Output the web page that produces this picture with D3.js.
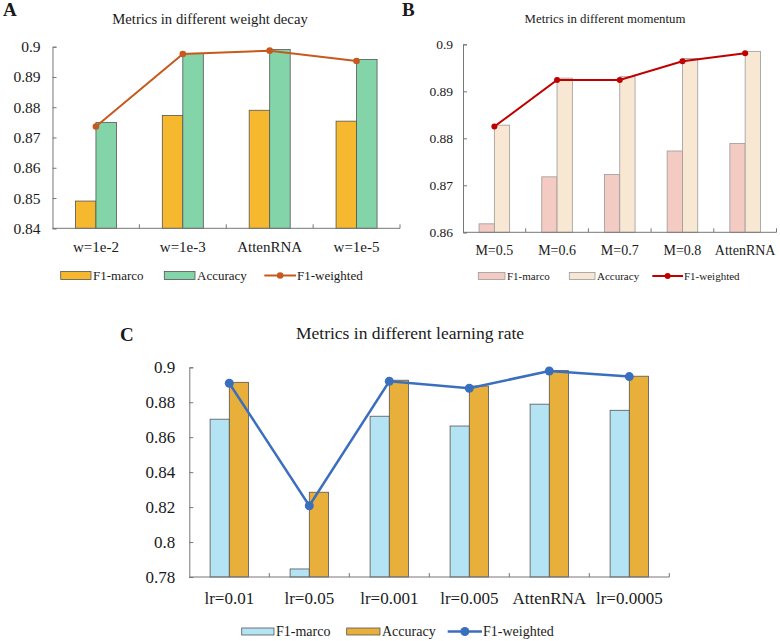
<!DOCTYPE html>
<html lang="en">
<head>
    <meta charset="UTF-8">
    <title>Metrics</title>
    <script src="https://cdn.jsdelivr.net/npm/d3@7"></script>
    <style>
        body { margin: 0; background: #fff; }
        text { font-family: "Liberation Serif", "DejaVu Serif", serif; fill: #1a1a1a; }
    </style>
</head>
<body>
    <script>
        const W = 780, H = 641;

        // panel A - weight decay
        const decayCats = ['w=1e-2', 'w=1e-3', 'AttenRNA', 'w=1e-5'];
        const decayF1Marco = [0.849, 0.8773, 0.879, 0.8754];
        const decayAcc = [0.875, 0.8978, 0.8991, 0.8958];
        const decayF1W = [0.8736, 0.8976, 0.8987, 0.8953];
        const decayTicks = [0.84, 0.85, 0.86, 0.87, 0.88, 0.89, 0.9];

        // panel B - momentum
        const momCats = ['M=0.5', 'M=0.6', 'M=0.7', 'M=0.8', 'AttenRNA'];
        const momF1Marco = [0.8618, 0.8718, 0.8723, 0.8773, 0.8789];
        const momAcc = [0.8828, 0.8928, 0.8931, 0.8970, 0.8985];
        const momF1W = [0.8825, 0.8924, 0.8924, 0.8964, 0.8981];
        const momTicks = [0.86, 0.87, 0.88, 0.89, 0.9];

        // panel C - learning rate
        const lrCats = ['lr=0.01', 'lr=0.05', 'lr=0.001', 'lr=0.005', 'AttenRNA', 'lr=0.0005'];
        const lrF1Marco = [0.8703, 0.7846, 0.872, 0.8664, 0.8789, 0.8754];
        const lrAcc = [0.8914, 0.8285, 0.8926, 0.8893, 0.8981, 0.8949];
        const lrF1W = [0.8909, 0.8208, 0.892, 0.888, 0.8979, 0.8947];
        const lrTicks = [0.78, 0.8, 0.82, 0.84, 0.86, 0.88, 0.9];

        const seriesNames = ['F1-marco', 'Accuracy', 'F1-weighted'];

        var svg = d3.select('body')
                    .append('svg')
                    .attr('width', W)
                    .attr('height', H);

        function drawPanel(p){
            var g = svg.append('g');
            var x = d3.scaleBand().domain(p.cats).range([p.x0, p.x1]);
            var y = d3.scaleLinear().domain([p.ticks[0], p.ticks[p.ticks.length - 1]]).range([p.yb, p.yt]);
            var bw = p.barW;

            // panel letter + title
            g.append('text').attr('x', p.letter[0]).attr('y', p.letter[1])
                .attr('font-size', p.letterSize).attr('font-weight', 'bold').text(p.letterText);
            g.append('text').attr('x', p.titlePos[0]).attr('y', p.titlePos[1])
                .attr('text-anchor', 'middle').attr('font-size', p.titleSize).text(p.title);

            // bars
            var rows = p.cats.map(function(c, i){ return {c: c, a: p.s1[i], b: p.s2[i], w: p.s3[i]}; });
            g.selectAll('.b1').data(rows).enter().append('rect')
                .attr('x', function(d){ return x(d.c) + x.bandwidth() / 2 - bw; })
                .attr('y', function(d){ return y(d.a); })
                .attr('width', bw)
                .attr('height', function(d){ return y(p.ticks[0]) - y(d.a); })
                .attr('fill', p.colors[0]).attr('stroke', p.barStroke).attr('stroke-width', 0.8);
            g.selectAll('.b2').data(rows).enter().append('rect')
                .attr('x', function(d){ return x(d.c) + x.bandwidth() / 2; })
                .attr('y', function(d){ return y(d.b); })
                .attr('width', bw)
                .attr('height', function(d){ return y(p.ticks[0]) - y(d.b); })
                .attr('fill', p.colors[1]).attr('stroke', p.barStroke).attr('stroke-width', 0.8);

            // y axis
            var yAxis = d3.axisLeft(y).tickValues(p.ticks).tickSize(-4).tickPadding(p.yPad)
                .tickFormat(function(d){ return String(+d.toFixed(2)); });
            var ya = g.append('g').attr('transform', 'translate(' + p.x0 + ',0)').call(yAxis);
            ya.attr('font-family', null);
            ya.select('.domain').attr('stroke', '#777').attr('stroke-width', 1);
            ya.selectAll('line').attr('stroke', '#777');
            ya.selectAll('text').attr('font-size', p.ySize).attr('fill', '#1a1a1a');

            // x axis
            var edges = p.cats.map(function(c){ return x(c); }).concat([p.x1]).slice(1);
            var xa = g.append('g');
            xa.append('line').attr('x1', p.x0).attr('x2', p.x1).attr('y1', p.yb).attr('y2', p.yb)
                .attr('stroke', '#777').attr('stroke-width', 1);
            xa.selectAll('.xt').data(edges).enter().append('line')
                .attr('x1', function(d){ return d; }).attr('x2', function(d){ return d; })
                .attr('y1', p.yb).attr('y2', p.yb - 4).attr('stroke', '#777');
            xa.selectAll('.xl').data(p.cats).enter().append('text')
                .attr('x', function(d){ return x(d) + x.bandwidth() / 2; })
                .attr('y', p.xLabelY)
                .attr('text-anchor', 'middle').attr('font-size', p.xSize)
                .text(function(d){ return d; });

            // line
            var line = d3.line()
                .x(function(d){ return x(d.c) + x.bandwidth() / 2; })
                .y(function(d){ return y(d.w); });
            g.append('path').datum(rows).attr('d', line).attr('fill', 'none')
                .attr('stroke', p.colors[2]).attr('stroke-width', p.lineW);
            g.selectAll('.pt').data(rows).enter().append('circle')
                .attr('cx', function(d){ return x(d.c) + x.bandwidth() / 2; })
                .attr('cy', function(d){ return y(d.w); })
                .attr('r', p.dotR).attr('fill', p.colors[2]);

            // legend
            var lg = g.append('g');
            p.legend.forEach(function(item, i){
                var lx = item[0], tx = item[1], ly = p.legendY;
                if(i < 2){
                    lg.append('rect').attr('x', lx).attr('y', ly - p.legRectH / 2)
                        .attr('width', tx - lx - 2).attr('height', p.legRectH)
                        .attr('fill', p.colors[i]).attr('stroke', p.barStroke).attr('stroke-width', 0.8);
                } else {
                    lg.append('line').attr('x1', lx).attr('x2', tx - 1).attr('y1', ly).attr('y2', ly)
                        .attr('stroke', p.colors[2]).attr('stroke-width', p.lineW);
                    lg.append('circle').attr('cx', (lx + tx - 1) / 2).attr('cy', ly)
                        .attr('r', p.dotR).attr('fill', p.colors[2]);
                }
                lg.append('text').attr('x', tx).attr('y', ly).attr('dy', '0.35em')
                    .attr('font-size', p.legSize).text(seriesNames[i]);
            });
        }

        drawPanel({
            cats: decayCats, s1: decayF1Marco, s2: decayAcc, s3: decayF1W, ticks: decayTicks,
            x0: 52.5, x1: 400, yt: 46.7, yb: 228.3, barW: 20.5,
            colors: ['#F5B82E', '#84D4AA', '#C55A1E'], barStroke: '#555',
            letterText: 'A', letter: [3, 16], letterSize: 19,
            title: 'Metrics in different weight decay', titlePos: [210, 24], titleSize: 14.7,
            ySize: 15.5, yPad: 12, xSize: 15, xLabelY: 251.5,
            lineW: 2, dotR: 3.3,
            legendY: 275.5, legRectH: 8, legSize: 13,
            legend: [[60.7, 93], [164.3, 197], [264.3, 297]]
        });

        drawPanel({
            cats: momCats, s1: momF1Marco, s2: momAcc, s3: momF1W, ticks: momTicks,
            x0: 463, x1: 776.5, yt: 44.3, yb: 232.3, barW: 15.3,
            colors: ['#F3CBC3', '#F8E7D3', '#C00000'], barStroke: '#9a9a9a',
            letterText: 'B', letter: [402, 16], letterSize: 19,
            title: 'Metrics in different momentum', titlePos: [605, 23], titleSize: 12.8,
            ySize: 13.5, yPad: 10, xSize: 14, xLabelY: 254.5,
            lineW: 2, dotR: 3,
            legendY: 276, legRectH: 7, legSize: 11,
            legend: [[478.3, 507], [569.3, 597], [652.3, 684]]
        });

        drawPanel({
            cats: lrCats, s1: lrF1Marco, s2: lrAcc, s3: lrF1W, ticks: lrTicks,
            x0: 189.3, x1: 669.3, yt: 367.3, yb: 577, barW: 19.2,
            colors: ['#B4E4F4', '#E8B03A', '#3A6FBE'], barStroke: '#555',
            letterText: 'C', letter: [120, 341], letterSize: 19,
            title: 'Metrics in different learning rate', titlePos: [410, 339], titleSize: 17.5,
            ySize: 17, yPad: 14, xSize: 17, xLabelY: 603.5,
            lineW: 2.5, dotR: 4.5,
            legendY: 631.5, legRectH: 7, legSize: 14,
            legend: [[241.7, 276], [346.7, 382], [447.7, 483]]
        });
    </script>
</body>
</html>
